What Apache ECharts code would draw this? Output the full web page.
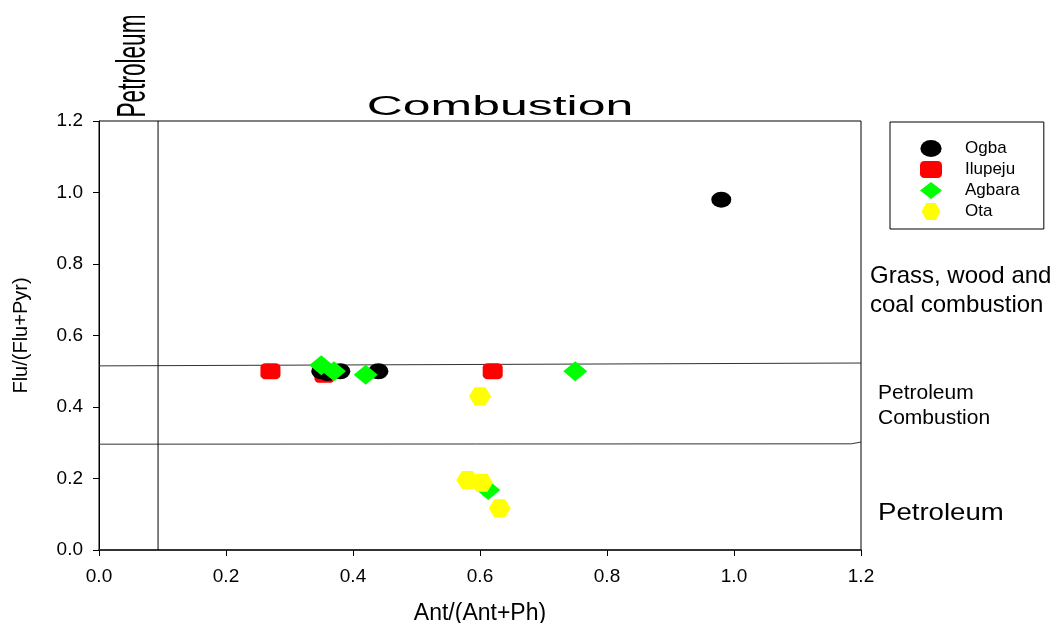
<!DOCTYPE html>
<html>
<head>
<meta charset="utf-8">
<script src="https://cdn.jsdelivr.net/npm/echarts@6/dist/echarts.min.js"></script>
<style>html,body{margin:0;padding:0;background:#fff;overflow:hidden}#c{width:1052px;height:623px}</style>
</head>
<body>
<div id="c"></div>
<script>
// ---- data ----
const seriesNames = ['Ogba', 'Ilupeju', 'Agbara', 'Ota'];
const ogba = [[0.35, 0.50], [0.36, 0.495], [0.38, 0.50], [0.44, 0.50], [0.98, 0.98]];
const ilupeju = [[0.27, 0.50], [0.355, 0.49], [0.62, 0.50]];
const agbara = [[0.35, 0.517], [0.37, 0.50], [0.42, 0.49], [0.75, 0.50], [0.613, 0.168]];
const ota = [[0.60, 0.43], [0.58, 0.196], [0.603, 0.188], [0.631, 0.117]];
const combustionBoundary = [[0, 0.515], [1.2, 0.523]];
const petroleumBoundary = [[0, 0.296], [1.185, 0.297], [1.2, 0.302]];
const petroleumVertical = [[0.093, 0], [0.093, 1.2]];
const xTicks = [0, 0.2, 0.4, 0.6, 0.8, 1.0, 1.2];
const yTicks = [0, 0.2, 0.4, 0.6, 0.8, 1.0, 1.2];

const ellipse = 'path://M0,8 A10,8 0 1,1 20,8 A10,8 0 1,1 0,8 Z';
const hexagon = 'path://M5,0 L15,0 L20,9 L15,18 L5,18 L0,9 Z';
const FONT = '"Liberation Sans", Arial, sans-serif';

const chart = echarts.init(document.getElementById('c'), null, {renderer: 'canvas'});

function refLine(data, color, width) {
  return {
    type: 'line', data: data, showSymbol: false, symbol: 'none', silent: true,
    lineStyle: {color: color, width: width}, z: 1, animation: false
  };
}

const option = {
  animation: false,
  backgroundColor: '#fff',
  grid: {left: 99, top: 121, right: 191, bottom: 73, containLabel: false, outerBoundsMode: 'none',
    show: true, borderColor: '#000', borderWidth: 1, backgroundColor: 'transparent'},
  xAxis: {
    type: 'value', min: 0, max: 1.2, interval: 0.2,
    name: 'Ant/(Ant+Ph)', nameLocation: 'middle', nameGap: 52,
    nameTextStyle: {fontFamily: FONT, fontSize: 23, color: '#000'},
    axisLine: {show: true, onZero: false, lineStyle: {color: '#333', width: 2}},
    axisTick: {show: true, inside: false, length: 6, lineStyle: {color: '#000'}},
    axisLabel: {fontFamily: FONT, fontSize: 19, color: '#000', margin: 17,
      formatter: v => xTicks.indexOf(Math.round(v * 10) / 10) >= 0 ? v.toFixed(1) : ''},
    splitLine: {show: false}
  },
  yAxis: {
    type: 'value', min: 0, max: 1.2, interval: 0.2,
    name: 'Flu/(Flu+Pyr)', nameLocation: 'middle', nameGap: 68,
    nameTextStyle: {fontFamily: FONT, fontSize: 20, color: '#000'},
    axisLine: {show: true, onZero: false, lineStyle: {color: '#000', width: 1}},
    axisTick: {show: true, inside: false, length: 6, lineStyle: {color: '#000'}},
    axisLabel: {fontFamily: FONT, fontSize: 19, color: '#000', margin: 16,
      formatter: v => yTicks.indexOf(Math.round(v * 10) / 10) >= 0 ? v.toFixed(1) : ''},
    splitLine: {show: false}
  },
  legend: {
    data: seriesNames,
    orient: 'vertical', left: 890, top: 122,
    padding: [18, 24, 9, 30],
    itemWidth: 22, itemHeight: 17, itemGap: 4,
    borderColor: '#000', borderWidth: 1, borderRadius: 0,
    textStyle: {fontFamily: FONT, fontSize: 17, color: '#000', padding: [0, 0, 0, 18]}
  },
  series: [
    refLine(combustionBoundary, '#333', 1),
    refLine(petroleumBoundary, '#333', 1),
    refLine(petroleumVertical, '#000', 1),
    {name: 'Ilupeju', type: 'scatter', data: ilupeju, symbol: 'roundRect', symbolSize: [20, 16],
      itemStyle: {color: '#ff0000', opacity: 1}, z: 2},
    {name: 'Ogba', type: 'scatter', data: ogba, symbol: ellipse, symbolSize: [20, 16],
      itemStyle: {color: '#000000', opacity: 1}, z: 3},
    {name: 'Agbara', type: 'scatter', data: agbara, symbol: 'diamond', symbolSize: [24, 20],
      itemStyle: {color: '#00ff00', opacity: 1}, z: 4},
    {name: 'Ota', type: 'scatter', data: ota, symbol: hexagon, symbolSize: [22, 18],
      itemStyle: {color: '#ffff00', opacity: 1}, z: 5}
  ],
  graphic: [
    {type: 'text', x: 500, y: 108, scaleX: 1.85, scaleY: 1,
      style: {text: 'Combustion', fontFamily: FONT, fontSize: 27, fill: '#000', textAlign: 'center', textVerticalAlign: 'middle'}},
    {type: 'text', x: 134, y: 66, rotation: Math.PI / 2, scaleX: 0.565, scaleY: 1,
      style: {text: 'Petroleum', fontFamily: FONT, fontSize: 40, fill: '#000', textAlign: 'center', textVerticalAlign: 'middle'}},
    {type: 'text', x: 870, y: 262,
      style: {text: 'Grass, wood and\ncoal combustion', fontFamily: FONT, fontSize: 24, lineHeight: 29, fill: '#000', textAlign: 'left', textVerticalAlign: 'top'}},
    {type: 'text', x: 878, y: 381,
      style: {text: 'Petroleum\nCombustion', fontFamily: FONT, fontSize: 21, lineHeight: 25, fill: '#000', textAlign: 'left', textVerticalAlign: 'top'}},
    {type: 'text', x: 878, y: 513, scaleX: 1.15,
      style: {text: 'Petroleum', fontFamily: FONT, fontSize: 24, fill: '#000', textAlign: 'left', textVerticalAlign: 'middle'}}
  ]
};
chart.setOption(option);
</script>
</body>
</html>
